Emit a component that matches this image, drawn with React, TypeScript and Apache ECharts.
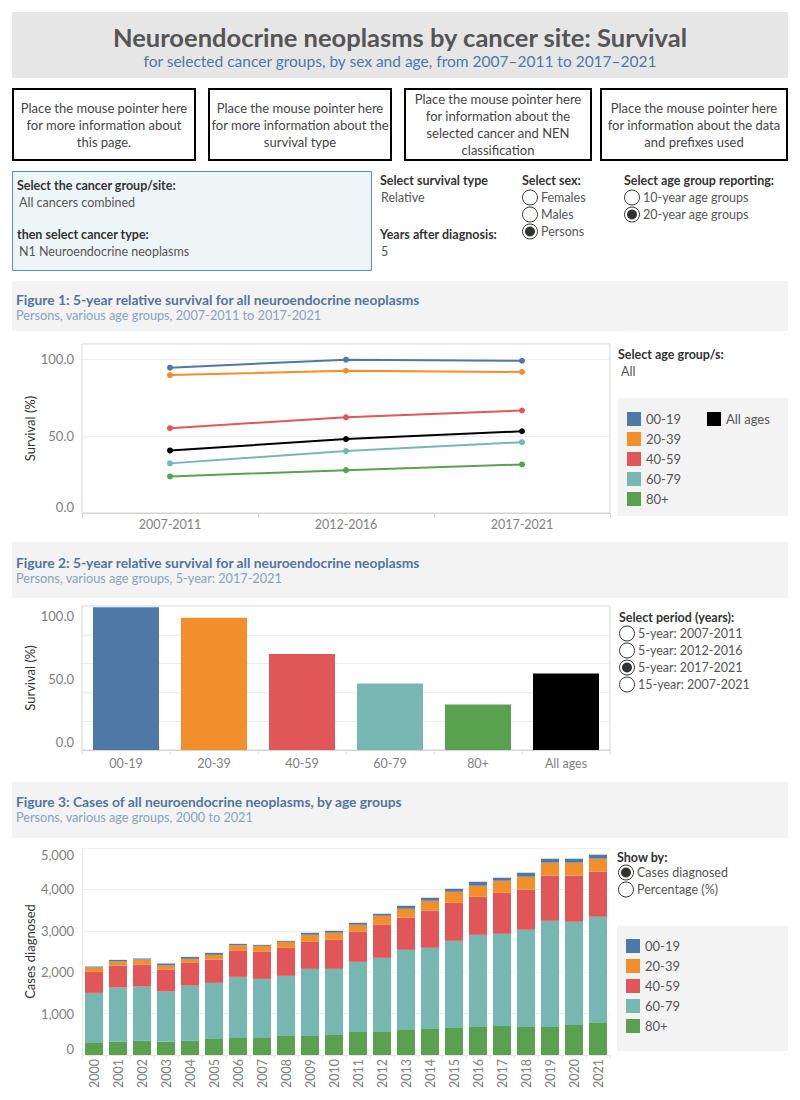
import React, { useEffect, useRef } from "react";
import * as echarts from "echarts";

// ---------- data ----------
const ageGroups = ["00-19", "20-39", "40-59", "60-79", "80+"];
const allAgesLabel = "All ages";
const ageColors = ["#4e79a7", "#f28e2b", "#e15759", "#76b7b2", "#59a14f"];
const allAgesColor = "#000000";

const periods = ["2007-2011", "2012-2016", "2017-2021"];
const surv0019 = [94.6, 99.8, 99.1];
const surv2039 = [89.8, 92.6, 91.8];
const surv4059 = [55.2, 62.3, 66.7];
const surv6079 = [32.3, 40.3, 46.1];
const surv80 = [23.8, 27.9, 31.6];
const survAll = [40.7, 48.1, 53.2];

const fig2Categories = ["00-19", "20-39", "40-59", "60-79", "80+", "All ages"];
const fig2Values = [99.1, 91.8, 66.7, 46.1, 31.6, 53.2];

const years = [
  "2000", "2001", "2002", "2003", "2004", "2005", "2006", "2007", "2008", "2009", "2010",
  "2011", "2012", "2013", "2014", "2015", "2016", "2017", "2018", "2019", "2020", "2021",
];
const cases0019 = [24, 40, 25, 49, 48, 49, 32, 24, 24, 49, 48, 49, 48, 73, 72, 72, 96, 72, 97, 97, 97, 97];
const cases2039 = [105, 97, 121, 96, 97, 113, 137, 145, 145, 169, 170, 169, 218, 217, 242, 267, 266, 291, 314, 314, 314, 315];
const cases4059 = [508, 532, 532, 533, 549, 564, 629, 653, 678, 653, 701, 726, 798, 775, 895, 919, 920, 992, 968, 1089, 1113, 1088];
const cases6079 = [1210, 1306, 1306, 1209, 1330, 1355, 1476, 1428, 1451, 1621, 1597, 1694, 1791, 1935, 1960, 2105, 2226, 2225, 2347, 2565, 2492, 2565];
const cases80 = [290, 323, 347, 323, 347, 387, 411, 411, 460, 460, 484, 556, 556, 605, 629, 653, 677, 702, 677, 677, 726, 774];

const sexOptions = ["Females", "Males", "Persons"];
const sexSelected = "Persons";
const ageReportingOptions = ["10-year age groups", "20-year age groups"];
const ageReportingSelected = "20-year age groups";
const periodOptions = ["5-year: 2007-2011", "5-year: 2012-2016", "5-year: 2017-2021", "15-year: 2007-2021"];
const periodSelected = "5-year: 2017-2021";
const showByOptions = ["Cases diagnosed", "Percentage (%)"];
const showBySelected = "Cases diagnosed";

const infoTexts = [
  "Place the mouse pointer here\nfor more information about\nthis page.",
  "Place the mouse pointer here\nfor more information about the\nsurvival type",
  "Place the mouse pointer here\nfor information about the\nselected cancer and NEN\nclassification",
  "Place the mouse pointer here\nfor information about the data\nand prefixes used",
];

// ---------- styling helpers ----------
const FONT = 'Lato, "Open Sans", sans-serif';
const DARK = "#333333";
const MID = "#555555";
const AXIS_TXT = "#808080";
const TITLE_BLUE = "#50759f";
const SUB_BLUE = "#86a2c4";

function txt(x: number, y: number, text: string, o: any = {}) {
  return {
    type: "text",
    x,
    y,
    silent: true,
    style: {
      text,
      fill: o.fill || MID,
      fontSize: o.size || 12.5,
      fontFamily: FONT,
      fontWeight: o.weight || "normal",
      textAlign: o.align || "left",
      textVerticalAlign: "middle",
      lineHeight: o.lineHeight || undefined,
    },
  };
}

function rect(x: number, y: number, w: number, h: number, style: any) {
  return { type: "rect", silent: true, shape: { x, y, width: w, height: h }, style };
}

function radio(cx: number, cy: number, selected: boolean) {
  const els: any[] = [
    { type: "circle", silent: true, shape: { cx, cy, r: 7.5 }, style: { fill: "#ffffff", stroke: DARK, lineWidth: 1 } },
  ];
  if (selected) {
    els.push({ type: "circle", silent: true, shape: { cx, cy, r: 5 }, style: { fill: DARK } });
  }
  return els;
}

function radioList(cx: number, y0: number, step: number, options: string[], selected: string) {
  const els: any[] = [];
  options.forEach((opt, i) => {
    const cy = y0 + i * step;
    els.push(...radio(cx, cy, opt === selected));
    els.push(txt(cx + 11, cy, opt, { fill: MID, size: 12.5 }));
  });
  return els;
}

export default function App() {
  const ref = useRef<HTMLDivElement>(null);

  useEffect(() => {
    if (!ref.current) return;
    const chart = echarts.init(ref.current, undefined, { renderer: "svg" });

    const graphics: any[] = [];
    // header
    graphics.push(rect(12, 12, 776, 66, { fill: "#e6e6e6" }));
    graphics.push(txt(400, 37, "Neuroendocrine neoplasms by cancer site: Survival", { fill: "#555555", size: 25.5, weight: "bold", align: "center" }));
    graphics.push(txt(400, 61, "for selected cancer groups, by sex and age, from 2007\u20132011 to 2017\u20132021", { fill: "#4e79a7", size: 15.5, align: "center" }));

    // info boxes
    const boxX = [13, 209, 405, 601];
    const boxW = [182, 182, 186, 186];
    infoTexts.forEach((t, i) => {
      graphics.push(rect(boxX[i], 89, boxW[i], 71, { fill: "#ffffff", stroke: "#000000", lineWidth: 2 }));
      graphics.push(txt(boxX[i] + boxW[i] / 2, 124.5, t, { fill: "#444444", size: 13, align: "center", lineHeight: 17 }));
    });

    // cancer selection box
    graphics.push(rect(12.5, 171.5, 359, 99, { fill: "#eef5f7", stroke: "#5a92a3", lineWidth: 1 }));
    graphics.push(txt(17, 185, "Select the cancer group/site:", { fill: DARK, size: 12.5, weight: "bold" }));
    graphics.push(txt(19, 202, "All cancers combined", { fill: MID }));
    graphics.push(txt(17, 234, "then select cancer type:", { fill: DARK, size: 12.5, weight: "bold" }));
    graphics.push(txt(19, 251, "N1 Neuroendocrine neoplasms", { fill: MID }));

    graphics.push(txt(380, 180, "Select survival type", { fill: DARK, weight: "bold" }));
    graphics.push(txt(381, 197, "Relative", { fill: MID }));
    graphics.push(txt(380, 234, "Years after diagnosis:", { fill: DARK, weight: "bold" }));
    graphics.push(txt(381, 251, "5", { fill: MID }));

    graphics.push(txt(522, 180, "Select sex:", { fill: DARK, weight: "bold" }));
    graphics.push(...radioList(530, 197.5, 17, sexOptions, sexSelected));
    graphics.push(txt(624, 180, "Select age group reporting:", { fill: DARK, weight: "bold" }));
    graphics.push(...radioList(632, 197.5, 17, ageReportingOptions, ageReportingSelected));

    // figure headers
    const headers = [
      { y: 281, h: 50, title: "Figure 1: 5-year relative survival for all neuroendocrine neoplasms", sub: "Persons, various age groups, 2007-2011 to 2017-2021" },
      { y: 542, h: 56, title: "Figure 2: 5-year relative survival for all neuroendocrine neoplasms", sub: "Persons, various age groups, 5-year: 2017-2021" },
      { y: 782, h: 56, title: "Figure 3: Cases of all neuroendocrine neoplasms, by age groups", sub: "Persons, various age groups, 2000 to 2021" },
    ];
    const titleY = [299, 562, 801];
    headers.forEach((hd, i) => {
      graphics.push(rect(12, hd.y, 776, hd.h, { fill: "#f3f3f3" }));
      graphics.push(txt(16, titleY[i], hd.title, { fill: TITLE_BLUE, size: 13.8, weight: "bold" }));
      graphics.push(txt(16, titleY[i] + 16, hd.sub, { fill: SUB_BLUE, size: 12.7 }));
    });

    // fig 1 side panel
    graphics.push(txt(618, 354, "Select age group/s:", { fill: DARK, weight: "bold" }));
    graphics.push(txt(621, 371, "All", { fill: MID }));
    graphics.push(rect(618, 398, 170, 118, { fill: "#f3f3f3" }));

    // fig 2 side panel
    graphics.push(txt(619, 617, "Select period (years):", { fill: DARK, weight: "bold" }));
    graphics.push(...radioList(627, 633.5, 17, periodOptions, periodSelected));

    // fig 3 side panel
    graphics.push(txt(617, 857, "Show by:", { fill: DARK, weight: "bold" }));
    graphics.push(...radioList(626, 872.5, 17, showByOptions, showBySelected));
    graphics.push(rect(617, 926, 171, 125, { fill: "#f3f3f3" }));

    const axisLabelBase = { color: AXIS_TXT, fontSize: 12.5, fontFamily: FONT };
    const yLabelBase = { color: AXIS_TXT, fontSize: 13, fontFamily: FONT };
    const yNameBase = {
      nameLocation: "middle",
      nameGap: 46,
      nameRotate: 90,
      nameMoveOverlap: false,
      nameTextStyle: { color: DARK, fontSize: 13, fontFamily: FONT },
    };
    const legendBase = {
      orient: "vertical",
      itemWidth: 14,
      itemHeight: 14,
      itemGap: 6,
      icon: "rect",
      selectedMode: false,
      padding: 0,
      textStyle: { color: MID, fontSize: 13, fontFamily: FONT, lineHeight: 14 },
    };

    const survSeries = [surv0019, surv2039, surv4059, surv6079, surv80];
    const caseSeries = [cases0019, cases2039, cases4059, cases6079, cases80];

    const lineSeries: any[] = ageGroups.map((g, i) => ({
      name: g,
      type: "line",
      xAxisIndex: 0,
      yAxisIndex: 0,
      data: survSeries[i],
      symbol: "circle",
      symbolSize: 6,
      lineStyle: { width: 2, color: ageColors[i] },
      itemStyle: { color: ageColors[i] },
      color: ageColors[i],
    }));
    lineSeries.push({
      name: allAgesLabel,
      type: "line",
      xAxisIndex: 0,
      yAxisIndex: 0,
      data: survAll,
      symbol: "circle",
      symbolSize: 6,
      lineStyle: { width: 2, color: allAgesColor },
      itemStyle: { color: allAgesColor },
      color: allAgesColor,
    });

    const fig2Colors = [...ageColors, allAgesColor];
    const barSeries = {
      name: "Survival 2017-2021",
      type: "bar",
      xAxisIndex: 1,
      yAxisIndex: 1,
      barCategoryGap: "25%",
      data: fig2Values.map((v, i) => ({ value: v, itemStyle: { color: fig2Colors[i] } })),
    };

    // stacked bars: bottom to top 80+, 60-79, 40-59, 20-39, 00-19
    const stackOrder = [4, 3, 2, 1, 0];
    const stackSeries = stackOrder.map((i) => ({
      name: ageGroups[i],
      type: "bar",
      stack: "cases",
      xAxisIndex: 2,
      yAxisIndex: 3,
      barCategoryGap: "25%",
      data: caseSeries[i],
      itemStyle: { color: ageColors[i] },
      color: ageColors[i],
    }));

    const option: any = {
      animation: false,
      backgroundColor: "#ffffff",
      textStyle: { fontFamily: FONT },
      graphic: { elements: graphics },
      legend: [
        { ...legendBase, data: ageGroups, left: 627, top: 412 },
        { ...legendBase, data: [allAgesLabel], left: 707, top: 412 },
        { ...legendBase, data: ageGroups, left: 626, top: 939 },
      ],
      grid: [
        { left: 82, top: 344, width: 528, height: 169, show: true, borderColor: "#d4d4d4", borderWidth: 1, backgroundColor: "transparent", outerBoundsMode: "none" },
        { left: 82, top: 606, width: 528, height: 144, show: true, borderColor: "#d4d4d4", borderWidth: 1, backgroundColor: "transparent", outerBoundsMode: "none" },
        { left: 82, top: 848, width: 528, height: 207, show: false, outerBoundsMode: "none" },
      ],
      xAxis: [
        {
          gridIndex: 0, type: "category", data: periods, boundaryGap: true,
          axisLine: { lineStyle: { color: "#d4d4d4" } },
          axisTick: { show: true, length: 4, lineStyle: { color: "#d4d4d4" } },
          axisLabel: { ...axisLabelBase, margin: 5 },
        },
        {
          gridIndex: 1, type: "category", data: fig2Categories, boundaryGap: true,
          axisLine: { lineStyle: { color: "#d4d4d4" } },
          axisTick: { show: true, length: 4, lineStyle: { color: "#e0e0e0" } },
          axisLabel: { ...axisLabelBase, margin: 7 },
        },
        {
          gridIndex: 2, type: "category", data: years, boundaryGap: true,
          axisLine: { lineStyle: { color: "#e6e6e6" } },
          axisTick: { show: true, length: 3, lineStyle: { color: "#e6e6e6" } },
          axisLabel: { ...axisLabelBase, rotate: 90, interval: 0, margin: 4 },
        },
      ],
      yAxis: [
        {
          gridIndex: 0, type: "value", min: 0, max: 110, interval: 50, position: "left",
          axisLine: { show: false }, axisTick: { show: false },
          splitLine: { lineStyle: { color: "#ececec" } },
          axisLabel: { ...yLabelBase, margin: 8, showMaxLabel: false, verticalAlignMinLabel: "bottom", formatter: (v: number) => v.toFixed(1) },
          name: "Survival (%)", ...yNameBase,
        },
        {
          gridIndex: 1, type: "value", min: 0, max: 100, interval: 20, position: "left",
          axisLine: { show: false }, axisTick: { show: false }, axisLabel: { show: false },
          splitLine: { lineStyle: { color: "#ececec" } },
        },
        {
          gridIndex: 1, type: "value", min: -6.6, max: 107.7, position: "left", offset: 0,
          axisLine: { show: false }, axisTick: { show: false }, splitLine: { show: false },
          axisLabel: { ...yLabelBase, margin: 8, customValues: [0, 50, 100], formatter: (v: number) => v.toFixed(1) },
          name: "Survival (%)", ...yNameBase,
        },
        {
          gridIndex: 2, type: "value", min: 0, max: 5000, interval: 1000, position: "left",
          axisLine: { show: true, lineStyle: { color: "#e6e6e6" } }, axisTick: { show: false },
          splitLine: { lineStyle: { color: "#efefef" } },
          axisLabel: {
            ...yLabelBase, margin: 8, verticalAlignMinLabel: "bottom", verticalAlignMaxLabel: "top",
            formatter: (v: number) => v.toLocaleString("en-US"),
          },
          name: "Cases diagnosed", ...yNameBase,
        },
      ],
      series: [...lineSeries, barSeries, ...stackSeries],
    };

    chart.setOption(option);
    return () => chart.dispose();
  }, []);

  return (
    <div style={{ position: "absolute", left: 0, top: 0, width: 800, height: 1100, background: "#ffffff" }}>
      <div ref={ref} style={{ width: 800, height: 1100 }} />
    </div>
  );
}
